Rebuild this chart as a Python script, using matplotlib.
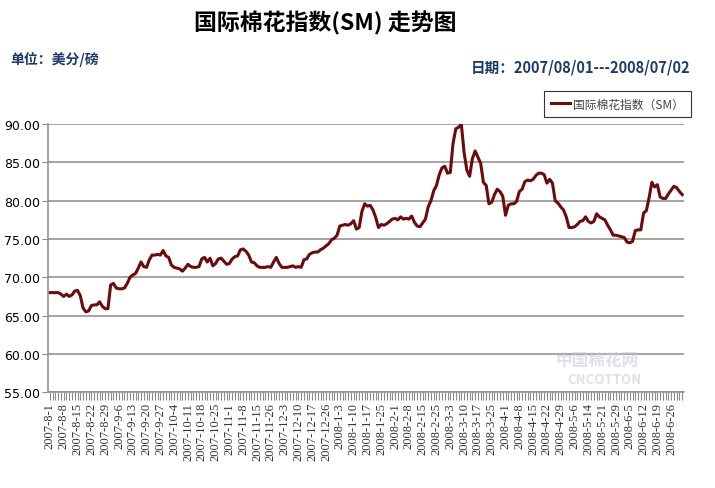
import numpy as np
import matplotlib.pyplot as plt

plt.rcParams['font.family'] = ['Noto Sans CJK SC', 'DejaVu Sans']

# 国际棉花指数(SM)，美分/磅，2007-08-01 ~ 2008-07-02，每个交易日一个点
index_sm = [
    68.0, 68.0, 68.0, 68.0, 67.8, 67.5, 67.8, 67.5, 67.7, 68.2,
    68.3, 67.6, 66.0, 65.5, 65.6, 66.3, 66.4, 66.4, 66.8, 66.2,
    65.9, 65.9, 69.0, 69.2, 68.6, 68.5, 68.5, 68.6, 69.2, 70.0,
    70.3, 70.5, 71.2, 72.0, 71.4, 71.3, 72.3, 72.9, 72.9, 73.0,
    72.9, 73.5, 72.8, 72.6, 71.6, 71.3, 71.2, 71.1, 70.8, 71.2,
    71.7, 71.4, 71.3, 71.3, 71.4, 72.4, 72.6, 72.0, 72.5, 71.5,
    71.8, 72.4, 72.5, 72.1, 71.7, 71.8, 72.4, 72.7, 72.8, 73.6,
    73.7, 73.4, 72.9, 72.0, 71.9, 71.5, 71.3, 71.3, 71.3, 71.4,
    71.3, 72.0, 72.6, 71.8, 71.3, 71.3, 71.3, 71.4, 71.5, 71.3,
    71.4, 71.3, 72.3, 72.4, 73.0, 73.2, 73.3, 73.3, 73.6, 73.8,
    74.1, 74.4, 74.9, 75.1, 75.5, 76.7, 76.8, 76.9, 76.8, 77.0,
    77.4, 76.3, 76.5, 78.6, 79.6, 79.3, 79.4, 78.8, 77.8, 76.5,
    76.9, 76.8, 77.0, 77.3, 77.6, 77.7, 77.5, 77.9, 77.6, 77.7,
    77.6, 78.0, 77.2, 76.7, 76.6, 77.1, 77.6, 79.2, 80.0, 81.3,
    82.0, 83.4, 84.3, 84.5, 83.6, 83.7, 87.5, 89.4, 89.6, 90.0,
    86.3, 84.0, 83.2, 85.5, 86.5, 85.7, 84.9, 82.4, 82.0, 79.6,
    79.8, 80.8, 81.5, 81.2, 80.6, 78.1, 79.4, 79.6, 79.6, 79.9,
    81.2, 81.5, 82.5, 82.7, 82.6, 82.8, 83.3, 83.6, 83.6, 83.4,
    82.3, 82.8, 82.3, 80.0, 79.7, 79.2, 78.8, 77.9, 76.5, 76.5,
    76.6, 76.9, 77.3, 77.4, 77.9, 77.3, 77.1, 77.3, 78.3, 77.9,
    77.7, 77.5, 76.8, 76.2, 75.5, 75.5, 75.4, 75.3, 75.2, 74.6,
    74.5, 74.7, 76.1, 76.2, 76.2, 78.4, 78.7, 80.4, 82.4, 81.8,
    82.1, 80.5, 80.3, 80.3, 80.9, 81.4, 81.9, 81.7, 81.2, 80.8,
]

# 每隔5个交易日标注一次日期
date_labels = [
    '2007-8-1', '2007-8-8', '2007-8-15', '2007-8-22', '2007-8-29',
    '2007-9-6', '2007-9-13', '2007-9-20', '2007-9-27', '2007-10-4',
    '2007-10-11', '2007-10-18', '2007-10-25', '2007-11-1', '2007-11-8',
    '2007-11-15', '2007-11-26', '2007-12-3', '2007-12-10', '2007-12-17',
    '2007-12-26', '2008-1-3', '2008-1-10', '2008-1-17', '2008-1-25',
    '2008-2-1', '2008-2-8', '2008-2-15', '2008-2-25', '2008-3-3',
    '2008-3-10', '2008-3-17', '2008-3-25', '2008-4-1', '2008-4-8',
    '2008-4-15', '2008-4-22', '2008-4-29', '2008-5-6', '2008-5-14',
    '2008-5-21', '2008-5-29', '2008-6-5', '2008-6-12', '2008-6-19',
    '2008-6-26',
]
label_step = 5

y_ticks = [55, 60, 65, 70, 75, 80, 85, 90]

line_color = '#6e0a0a'
grid_color = '#8c8c8c'
blue = '#1a3a6b'

fig = plt.figure(figsize=(7.15, 4.89), dpi=100)
ax = fig.add_axes([0.0671, 0.196, 0.889, 0.548])

x = np.arange(len(index_sm))
ax.plot(x, index_sm, color=line_color, lw=2.2, label='国际棉花指数（SM）',
        solid_joinstyle='round')

ax.set_ylim(55, 90)
ax.set_xlim(-0.7, len(index_sm) - 0.5)
ax.set_yticks(y_ticks)
ax.set_yticklabels([f'{v:.2f}' for v in y_ticks], fontsize=9,
                   family=['DejaVu Sans'])
ax.yaxis.grid(True, color=grid_color, lw=1.1)
ax.set_axisbelow(True)

ax.set_xticks(x, minor=True)
ax.set_xticks(x[::label_step][:len(date_labels)])
ax.set_xticklabels(date_labels, rotation=90, fontsize=9,
                   family=['Liberation Serif'], color='#333333')
ax.tick_params(axis='x', which='both', length=6, width=0.8, color=grid_color,
               pad=1)
ax.tick_params(axis='y', length=4, width=0.8, color=grid_color, pad=2)

for side in ['top', 'right']:
    ax.spines[side].set_visible(False)
for side in ['left', 'bottom']:
    ax.spines[side].set_color(grid_color)
    ax.spines[side].set_linewidth(1.1)

leg = fig.legend(loc='upper right', bbox_to_anchor=(0.962, 0.806), fontsize=8.5,
                 frameon=True, fancybox=False, handlelength=1.6,
                 handletextpad=0.3, borderpad=0.3, borderaxespad=0.0)
leg.get_frame().set_edgecolor('black')
leg.get_frame().set_linewidth(0.8)
leg.get_frame().set_boxstyle('square', pad=0.25)
for t in leg.get_texts():
    t.set_color('#444444')

fig.text(0.455, 0.953, '国际棉花指数(SM) 走势图', ha='center', va='center',
         fontsize=16.5, fontweight='bold', color='black')
fig.text(0.014, 0.878, '单位：美分/磅', ha='left', va='center',
         fontsize=10, fontweight='bold', color=blue)
fig.text(0.965, 0.862, '日期：2007/08/01---2008/07/02', ha='right', va='center',
         fontsize=10.5, fontweight='bold', color=blue)

# 水印
fig.text(0.835, 0.262, '中国棉花网', ha='center', va='center', fontsize=12,
         fontweight='bold', color='#c8cede', alpha=0.6)
fig.text(0.845, 0.222, 'CNCOTTON', ha='center', va='center', fontsize=9.5,
         fontweight='bold', style='italic', color='#c8cede', alpha=0.6)

fig.savefig('out.png', dpi=100)
